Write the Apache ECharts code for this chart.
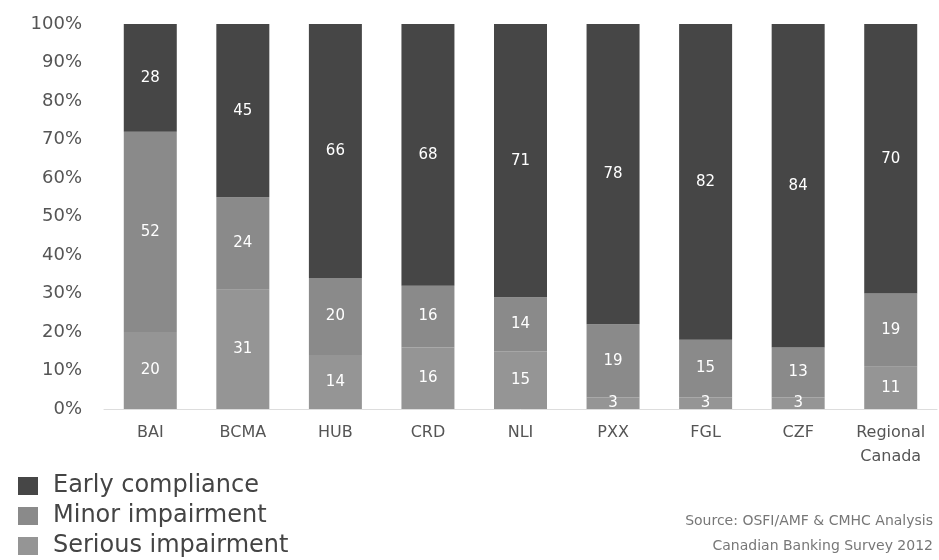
<!DOCTYPE html>
<html>
<head>
<meta charset="utf-8">
<script src="https://cdn.jsdelivr.net/npm/echarts@6/dist/echarts.min.js"></script>
<style>html,body{margin:0;padding:0;background:#fff;}#chart{width:939px;height:560px;}</style>
</head>
<body>
<div id="chart"></div>
<script>
var categories = ['BAI', 'BCMA', 'HUB', 'CRD', 'NLI', 'PXX', 'FGL', 'CZF', 'Regional\nCanada'];
var serious = [20, 31, 14, 16, 15, 3, 3, 3, 11];
var minor = [52, 24, 20, 16, 14, 19, 15, 13, 19];
var early = [28, 45, 66, 68, 71, 78, 82, 84, 70];
var seriesNames = ['Early compliance', 'Minor impairment', 'Serious impairment'];
var sourceLines = ['Source: OSFI/AMF & CMHC Analysis', 'Canadian Banking Survey 2012'];

var FONT = 'DejaVu Sans';
var chart = echarts.init(document.getElementById('chart'));
function barSeries(name, data, color) {
  return {
    name: name, type: 'bar', stack: 'total', data: data, barWidth: 53,
    itemStyle: { color: color },
    label: { show: true, position: 'inside', color: '#ffffff', fontFamily: FONT, fontSize: 15 }
  };
}
chart.setOption({
  animation: false,
  textStyle: { fontFamily: FONT },
  grid: { left: 104, right: 2, top: 24, bottom: 151 },
  xAxis: {
    type: 'category', data: categories,
    axisLine: { show: true, lineStyle: { color: '#dddddd' } },
    axisTick: { show: false },
    axisLabel: { color: '#555555', fontFamily: FONT, fontSize: 16, margin: 12, lineHeight: 24 }
  },
  yAxis: {
    type: 'value', min: 0, max: 100, interval: 10,
    axisLine: { show: false }, axisTick: { show: false },
    splitLine: { show: false },
    axisLabel: { formatter: '{value}%', color: '#555555', fontFamily: FONT, fontSize: 18, margin: 22 }
  },
  legend: {
    data: seriesNames,
    orient: 'vertical', left: 18, top: 474, height: 120, padding: 0,
    icon: 'rect', itemWidth: 20, itemHeight: 18, itemGap: 6,
    textStyle: { color: '#444444', fontFamily: FONT, fontSize: 24, padding: [0, 0, 0, 10] }
  },
  graphic: [
    { type: 'text', right: 6, top: 514, style: { text: sourceLines[0], fill: '#777777', font: '14px DejaVu Sans', textAlign: 'right' } },
    { type: 'text', right: 6, top: 539, style: { text: sourceLines[1], fill: '#777777', font: '14px DejaVu Sans', textAlign: 'right' } }
  ],
  series: [
    barSeries(seriesNames[2], serious, '#959595'),
    barSeries(seriesNames[1], minor, '#8a8a8a'),
    barSeries(seriesNames[0], early, '#464646')
  ]
});
</script>
</body>
</html>
